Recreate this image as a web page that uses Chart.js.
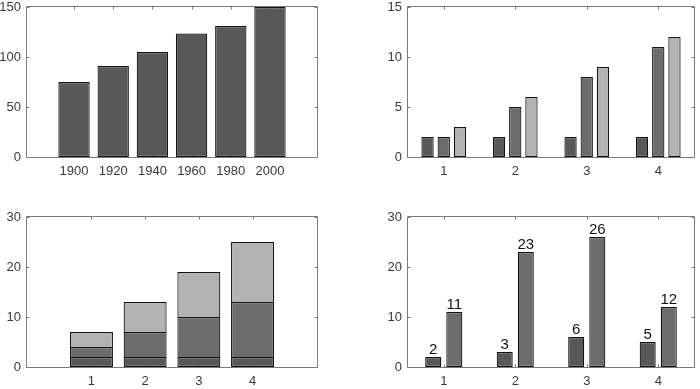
<!DOCTYPE html>
<html><head><meta charset="utf-8">
<script src="https://cdn.jsdelivr.net/npm/chart.js@4/dist/chart.umd.min.js"></script>
<style>
html,body{margin:0;padding:0;background:#fff;overflow:hidden;width:700px;height:389px;position:relative;}
canvas{position:absolute;left:-30px;top:-30px;}
</style></head><body>
<canvas id="c1" width="760" height="449"></canvas>
<canvas id="c2" width="760" height="449"></canvas>
<canvas id="c3" width="760" height="449"></canvas>
<canvas id="c4" width="760" height="449"></canvas>
<script>
// ---- data ----
const years = [1900, 1920, 1940, 1960, 1980, 2000];
const population = [75, 91, 105, 123.5, 131, 150];
const groups = ['1', '2', '3', '4'];
const groupPositions = [1, 2, 3, 4];
const seriesA = [2, 2, 2, 2];
const seriesB = [2, 5, 8, 11];
const seriesC = [3, 6, 9, 12];
const pairA = [2, 3, 6, 5];
const pairB = [11, 23, 26, 12];
const yTicks1 = [0, 50, 100, 150];
const yTicks2 = [0, 5, 10, 15];
const yTicks3 = [0, 10, 20, 30];

// ---- style ----
const COL1 = '#585858', COL2 = '#6c6c6c', COL3 = '#b3b3b3';
const EDGE = '#141414';
const AXC = '#7a7a7a';
const TXT = '#3a3a3a';
const FONT = {family: '"Liberation Sans", Arial, sans-serif', size: 13};

function barStyle(color, cat, bar, skip) {
  return {backgroundColor: color, borderColor: EDGE, borderWidth: 1.2, borderSkipped: skip || false,
          inflateAmount: 0, categoryPercentage: cat, barPercentage: bar};
}

const boxPlugin = {
  id: 'box',
  beforeDatasetsDraw(chart) {
    const {ctx, chartArea: a, scales: {x, y}} = chart;
    const L = Math.round(a.left) - 0.5, R = Math.round(a.right) + 0.5;
    const T = Math.round(a.top) - 0.5, B = Math.round(a.bottom) + 0.5;
    ctx.save();
    ctx.strokeStyle = AXC; ctx.lineWidth = 1;
    ctx.beginPath();
    ctx.moveTo(L, T); ctx.lineTo(R, T); ctx.lineTo(R, B); ctx.lineTo(L, B); ctx.closePath();
    y.ticks.forEach(t => {
      const p = Math.round(y.getPixelForValue(t.value)) + 0.5;
      ctx.moveTo(L, p); ctx.lineTo(L + 3, p);
      ctx.moveTo(R, p); ctx.lineTo(R - 3, p);
    });
    x.ticks.forEach((t, i) => {
      const p = Math.round(x.getPixelForTick(i)) + 0.5;
      ctx.moveTo(p, T); ctx.lineTo(p, T + 3);
      ctx.moveTo(p, B); ctx.lineTo(p, B - 3);
    });
    ctx.stroke();
    ctx.restore();
  }
};

const valueLabels = {
  id: 'valueLabels',
  afterDatasetsDraw(chart, args, opts) {
    if (!opts.show) return;
    const {ctx} = chart;
    ctx.save();
    ctx.fillStyle = '#111';
    ctx.font = '15px "Liberation Sans", Arial, sans-serif';
    ctx.textAlign = 'center';
    ctx.textBaseline = 'alphabetic';
    chart.data.datasets.forEach((ds, di) => {
      chart.getDatasetMeta(di).data.forEach((el, i) => {
        ctx.fillText(String(ds.data[i]), el.x, el.y - 3.5);
      });
    });
    ctx.restore();
  }
};

function makeChart(id, rect, data, xScale, yTicks, extra) {
  const yW = 40, xH = 30;
  const pad = {
    left: rect.L + 30 - yW,
    top: rect.T + 30,
    right: 760 - (rect.R + 30),
    bottom: 449 - (rect.B + 30) - xH
  };
  const yMax = yTicks[yTicks.length - 1];
  return new Chart(document.getElementById(id), {
    type: 'bar',
    data: data,
    plugins: [boxPlugin, valueLabels],
    options: {
      responsive: false,
      animation: false,
      events: [],
      layout: {padding: pad},
      plugins: {legend: {display: false}, tooltip: {enabled: false}, valueLabels: {show: !!(extra && extra.labels)}},
      scales: {
        x: Object.assign({
          grid: {display: false, drawTicks: false},
          border: {display: false},
          ticks: {font: FONT, color: TXT, padding: 7, maxRotation: 0, autoSkip: false},
          afterFit: s => { s.height = xH; }
        }, xScale),
        y: {
          min: 0, max: yMax,
          stacked: !!(extra && extra.stacked),
          grid: {display: false, drawTicks: false},
          border: {display: false},
          ticks: {font: FONT, color: TXT, padding: 6},
          afterBuildTicks: s => { s.ticks = yTicks.map(v => ({value: v})); },
          afterFit: s => { s.width = yW; }
        }
      }
    }
  });
}

// Panel 1: population bars
makeChart('c1', {L: 27, T: 7, R: 317, B: 157}, {
  datasets: [Object.assign({
    data: years.map((yr, i) => ({x: yr, y: population[i]}))
  }, barStyle(COL1, 1, 0.8))]
}, {
  type: 'linear', min: 1876, max: 2024, offset: false,
  grid: {display: false, drawTicks: false},
  border: {display: false},
  afterBuildTicks: s => { s.ticks = years.map(v => ({value: v})); },
  ticks: {font: FONT, color: TXT, padding: 7, maxRotation: 0, autoSkip: false, callback: v => String(v)}
}, yTicks1);

// Panel 2: grouped bars (3 series)
makeChart('c2', {L: 408, T: 7, R: 694, B: 157}, {
  labels: groups,
  datasets: [
    Object.assign({data: seriesA}, barStyle(COL1, 0.68, 0.76)),
    Object.assign({data: seriesB}, barStyle(COL2, 0.68, 0.76)),
    Object.assign({data: seriesC}, barStyle(COL3, 0.68, 0.76))
  ]
}, {type: 'category', offset: true}, yTicks2);

// Panel 3: stacked bars
makeChart('c3', {L: 27, T: 217, R: 317, B: 367}, {
  datasets: [
    Object.assign({data: groupPositions.map((p, i) => ({x: p, y: seriesA[i]}))}, barStyle(COL1, 1, 0.8)),
    Object.assign({data: groupPositions.map((p, i) => ({x: p, y: seriesB[i]}))}, barStyle(COL2, 1, 0.8, 'start')),
    Object.assign({data: groupPositions.map((p, i) => ({x: p, y: seriesC[i]}))}, barStyle(COL3, 1, 0.8, 'start'))
  ]
}, {
  type: 'linear', min: -0.2, max: 5.2, offset: false, stacked: true,
  grid: {display: false, drawTicks: false},
  border: {display: false},
  afterBuildTicks: s => { s.ticks = groupPositions.map(v => ({value: v})); },
  ticks: {font: FONT, color: TXT, padding: 7, maxRotation: 0, autoSkip: false, callback: v => String(v)}
}, yTicks3, {stacked: true});

// Panel 4: grouped bars with value labels
makeChart('c4', {L: 408, T: 217, R: 694, B: 367}, {
  labels: groups,
  datasets: [
    Object.assign({data: pairA}, barStyle(COL1, 0.59, 0.76)),
    Object.assign({data: pairB}, barStyle(COL2, 0.59, 0.76))
  ]
}, {type: 'category', offset: true}, yTicks3, {labels: true});
</script>
</body></html>
